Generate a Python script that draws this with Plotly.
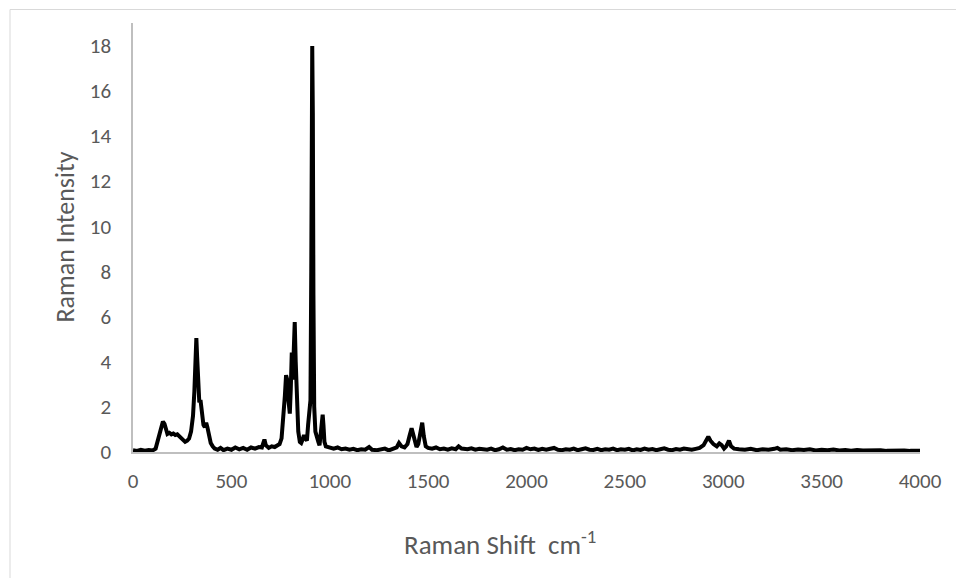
import plotly.graph_objects as go

# Raman spectrum
shift = [0, 20, 40, 60, 80, 100, 115, 125, 135, 145, 152, 160, 168, 175, 185, 195, 205, 215, 225, 235,
         245, 255, 265, 275, 285, 295, 305, 312, 318, 322, 326, 331, 337, 343, 350, 358, 365, 372, 378, 385,
         395, 405, 415, 430, 445, 460, 480, 500, 520, 540, 560, 580, 600, 620, 640, 655, 668, 675, 690, 705,
         720, 735, 745, 755, 765, 772, 778, 784, 790, 797, 802, 807, 812, 817, 822, 827, 833, 840, 848, 855,
         862, 869, 876, 884, 890, 896, 902, 906, 909, 911, 914, 917, 921, 927, 935, 942, 948, 953, 958, 964,
         968, 973, 980, 990, 1000, 1020, 1040, 1060, 1080, 1100, 1120, 1140, 1160, 1180, 1200, 1215, 1240, 1260, 1280, 1300,
         1320, 1340, 1352, 1365, 1380, 1395, 1405, 1416, 1425, 1435, 1441, 1450, 1460, 1470, 1478, 1488, 1500, 1520, 1540, 1560,
         1580, 1600, 1620, 1640, 1655, 1670, 1700, 1720, 1740, 1760, 1780, 1800, 1820, 1840, 1860, 1880, 1900, 1920, 1940, 1960,
         1980, 2000, 2020, 2040, 2060, 2080, 2100, 2120, 2140, 2160, 2180, 2200, 2220, 2240, 2260, 2280, 2300, 2320, 2340, 2360,
         2380, 2400, 2420, 2440, 2460, 2480, 2500, 2520, 2540, 2560, 2580, 2600, 2620, 2640, 2660, 2680, 2700, 2720, 2740, 2760,
         2780, 2800, 2820, 2840, 2860, 2880, 2900, 2912, 2924, 2935, 2950, 2967, 2980, 2992, 3004, 3015, 3029, 3040, 3055, 3080,
         3110, 3140, 3170, 3200, 3230, 3260, 3275, 3290, 3320, 3350, 3380, 3410, 3440, 3470, 3500, 3530, 3560, 3590, 3620, 3650,
         3680, 3710, 3740, 3770, 3800, 3830, 3860, 3890, 3920, 3950, 3980, 4000]
intensity = [0.08, 0.05, 0.10, 0.06, 0.09, 0.07, 0.15, 0.50, 0.85, 1.20, 1.35, 1.25, 0.90, 0.80, 0.85, 0.78, 0.82, 0.75, 0.78, 0.70,
             0.60, 0.50, 0.45, 0.50, 0.60, 0.90, 1.60, 2.70, 3.80, 5.05, 4.20, 2.80, 2.20, 2.30, 1.80, 1.20, 1.10, 1.30, 1.10, 0.70,
             0.40, 0.25, 0.15, 0.10, 0.18, 0.08, 0.15, 0.10, 0.20, 0.12, 0.18, 0.10, 0.20, 0.15, 0.22, 0.20, 0.55, 0.30, 0.18, 0.25,
             0.22, 0.30, 0.35, 0.60, 1.50, 2.50, 3.40, 3.20, 2.30, 1.70, 2.80, 4.40, 3.20, 4.60, 5.75, 4.00, 2.00, 0.90, 0.45, 0.40,
             0.55, 0.75, 0.60, 0.50, 1.20, 2.15, 2.30, 8.00, 15.0, 17.98, 15.0, 7.00, 2.00, 0.90, 0.55, 0.45, 0.30, 0.80, 1.20, 1.65,
             1.20, 0.45, 0.25, 0.22, 0.20, 0.15, 0.20, 0.12, 0.15, 0.10, 0.14, 0.08, 0.12, 0.10, 0.22, 0.10, 0.08, 0.12, 0.15, 0.07,
             0.12, 0.20, 0.40, 0.25, 0.20, 0.35, 0.70, 1.05, 0.75, 0.30, 0.22, 0.35, 0.90, 1.30, 0.70, 0.25, 0.18, 0.15, 0.20, 0.12,
             0.15, 0.10, 0.16, 0.12, 0.25, 0.15, 0.12, 0.16, 0.10, 0.14, 0.12, 0.10, 0.15, 0.08, 0.12, 0.20, 0.10, 0.13, 0.08, 0.12,
             0.10, 0.18, 0.12, 0.15, 0.09, 0.14, 0.10, 0.12, 0.18, 0.10, 0.08, 0.12, 0.10, 0.15, 0.08, 0.12, 0.16, 0.10, 0.09, 0.14,
             0.08, 0.12, 0.10, 0.15, 0.08, 0.12, 0.10, 0.14, 0.07, 0.12, 0.09, 0.15, 0.10, 0.13, 0.08, 0.12, 0.16, 0.10, 0.08, 0.13,
             0.10, 0.15, 0.12, 0.10, 0.14, 0.18, 0.30, 0.50, 0.68, 0.50, 0.35, 0.25, 0.38, 0.30, 0.15, 0.25, 0.50, 0.25, 0.15, 0.12,
             0.10, 0.14, 0.08, 0.12, 0.10, 0.14, 0.18, 0.10, 0.12, 0.08, 0.11, 0.09, 0.12, 0.07, 0.10, 0.08, 0.11, 0.07, 0.09, 0.06,
             0.09, 0.07, 0.08, 0.06, 0.08, 0.05, 0.07, 0.06, 0.07, 0.05, 0.06, 0.05]

x_ticks = [0, 500, 1000, 1500, 2000, 2500, 3000, 3500, 4000]
y_ticks = [0, 2, 4, 6, 8, 10, 12, 14, 16, 18]

FONT = "Carlito, Calibri, Lato, sans-serif"
GREY = "#595959"

fig = go.Figure()
fig.add_trace(go.Scatter(x=shift, y=intensity, mode="lines",
                         line=dict(color="black", width=4), showlegend=False,
                         hoverinfo="x+y"))

fig.update_layout(
    width=956, height=578,
    margin=dict(l=133, r=36, t=23, b=126),
    paper_bgcolor="white", plot_bgcolor="white",
    font=dict(family=FONT, size=21, color=GREY),
    xaxis=dict(range=[0, 4000], tickvals=x_ticks, ticktext=[str(v) for v in x_ticks],
               showgrid=False, zeroline=False, showline=True, linecolor="#BFBFBF", linewidth=1.5,
               ticks="", ticklabelstandoff=9, tickfont=dict(family=FONT, size=21, color=GREY)),
    yaxis=dict(range=[0, 19], tickvals=y_ticks, ticktext=[str(v) for v in y_ticks],
               showgrid=False, zeroline=False, showline=True, linecolor="#BFBFBF", linewidth=1.5,
               ticks="", ticklabelstandoff=16, tickfont=dict(family=FONT, size=21, color=GREY)),
    shapes=[dict(type="rect", xref="paper", yref="paper",
                 x0=(10 - 133) / 787, x1=(980 - 133) / 787,
                 y0=(452 - 620) / 429, y1=(452 - 9.5) / 429,
                 line=dict(color="#D9D9D9", width=1), fillcolor="rgba(0,0,0,0)", layer="below")],
    annotations=[
        dict(text="Raman Intensity", xref="paper", yref="paper",
             x=(64 - 133) / 787, y=0.5, textangle=-90, showarrow=False,
             xanchor="center", yanchor="middle", font=dict(family=FONT, size=26, color=GREY)),
        dict(text="Raman Shift  cm<sup>-1</sup>", xref="paper", yref="paper",
             x=(500 - 133) / 787, y=(452 - 543) / 429, showarrow=False,
             xanchor="center", yanchor="middle", font=dict(family=FONT, size=27, color=GREY)),
    ],
)

fig.write_html("out.html")
